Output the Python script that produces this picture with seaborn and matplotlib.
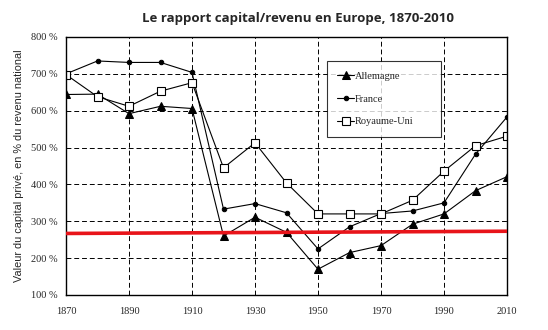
import numpy as np
import pandas as pd
import matplotlib
matplotlib.use("Agg")
import matplotlib.pyplot as plt
import seaborn as sns

years = [1870, 1880, 1890, 1900, 1910, 1920, 1930, 1940, 1950, 1960, 1970, 1980, 1990, 2000, 2010]
allemagne = [644, 645, 592, 612, 606, 260, 311, 270, 170, 215, 234, 292, 320, 383, 421]
france = [700, 735, 731, 731, 704, 333, 348, 323, 225, 285, 321, 328, 350, 482, 583]
royaume_uni = [698, 638, 612, 653, 676, 445, 513, 404, 320, 320, 320, 357, 436, 505, 531]
red_x = [1870, 2010]
red_y = [267, 273]

title = "Le rapport capital/revenu en Europe, 1870-2010"
ylabel = "Valeur du capital privé, en % du revenu national"
xticks = [1870, 1890, 1910, 1930, 1950, 1970, 1990, 2010]
yticks = [100, 200, 300, 400, 500, 600, 700, 800]

sns.set_style("white")
plt.rcParams['font.family'] = ['DejaVu Sans']

fig = plt.figure(figsize=(5.48, 3.30), dpi=100)
ax = fig.add_axes([66/548, 1-295/330, 441/548, 258/330])

df = pd.DataFrame({"year": years, "Allemagne": allemagne, "France": france, "Royaume-Uni": royaume_uni})

sns.lineplot(data=df, x="year", y="Allemagne", ax=ax, color="black", lw=0.8,
             marker="^", markersize=5.5, markerfacecolor="black", markeredgecolor="black", label="Allemagne")
sns.lineplot(data=df, x="year", y="France", ax=ax, color="black", lw=0.8,
             marker="o", markersize=3.2, markerfacecolor="black", markeredgecolor="black", label="France")
sns.lineplot(data=df, x="year", y="Royaume-Uni", ax=ax, color="black", lw=0.8,
             marker="s", markersize=6, markerfacecolor="white", markeredgecolor="black",
             markeredgewidth=0.8, label="Royaume-Uni")

ax.plot(red_x, red_y, color="#e8141a", lw=2.6, zorder=5)

ax.set_xlim(1870, 2010)
ax.set_ylim(100, 800)
ax.set_xticks(xticks)
ax.set_yticks(yticks)
serif = ['Liberation Serif', 'DejaVu Serif']
ax.set_xticklabels([str(v) for v in xticks], family=serif, fontsize=7.5)
ax.set_yticklabels([f"{v} %" for v in yticks], family=serif, fontsize=7.5)
ax.tick_params(axis='both', length=0, pad=6)
ax.tick_params(axis='x', pad=9)
ax.set_xlabel("")
ax.set_ylabel(ylabel, family=['Liberation Sans', 'DejaVu Sans'], fontsize=7.8, labelpad=5)

ax.grid(True, color="black", linestyle=(0, (5, 3)), lw=0.7)
for s in ax.spines.values():
    s.set_color("black")
    s.set_linewidth(1.0)

leg = ax.legend(loc="upper left", bbox_to_anchor=(0.592, 0.907, 0.258, 0.0), mode="expand",
                frameon=True, fancybox=False, shadow=False, prop={'family': serif, 'size': 7.5},
                labelspacing=1.3, handlelength=1.6, handletextpad=0.1, borderpad=1.0, borderaxespad=0)
leg.get_frame().set_edgecolor("black")
leg.get_frame().set_linewidth(0.8)
leg.set_zorder(6)

fig.text(0.544, 0.945, title, ha="center", va="center", fontsize=9.5, fontweight="bold",
         family=['Open Sans', 'DejaVu Sans'])

fig.savefig("out.png", dpi=100, facecolor="white")
